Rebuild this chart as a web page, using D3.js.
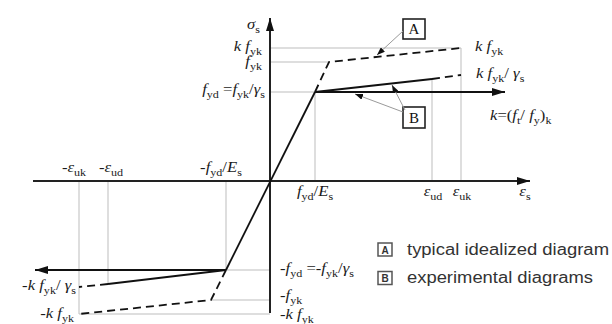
<!DOCTYPE html>
<html>
<head>
<meta charset="utf-8">
<script src="https://cdn.jsdelivr.net/npm/d3@7"></script>
<style>
body { margin: 0; background: #fff; }
svg { display: block; }
</style>
</head>
<body>
<script>
// strain positions (arbitrary units)
var strainNames = ["-ε_uk_", "-ε_ud_", "-f_yd_/E_s_", "f_yd_/E_s_", "ε_ud_", "ε_uk_"];
var strainVals = [-191, -162, -44, 45, 162, 191];
var fykEs = 59;
var axisEnd = [-237, 260];

// stress levels
var fyd = 89, fyk = 119, kfyk = 133, kfykGs = 106;
var bAtUd = 102;   // B line value at eps_ud
var arrowReach = 235;

// curves
var elastic = [[-44, -fyd], [45, fyd]];
var idealA = [[45, fyd], [fykEs, fyk], [191, kfyk]];
var idealAneg = [[-44, -fyd], [-fykEs, -fyk], [-191, -kfyk]];
var expB = [[45, fyd], [162, bAtUd]];
var expBdash = [[162, bAtUd], [191, kfykGs]];
var expBneg = [[-44, -fyd], [-162, -103]];
var expBnegDash = [[-162, -103], [-191, -kfykGs]];
var flatPos = [[45, fyd], [arrowReach, fyd]];
var flatNeg = [[-44, -fyd], [-arrowReach, -fyd]];

var legendKeys = ["A", "B"];
var legendText = ["typical idealized diagram", "experimental diagrams"];

var width = 612, height = 324;
var x = d3.scaleLinear().domain(axisEnd).range([33, 530]);
var y = d3.scaleLinear().domain([-132, 163]).range([313, 18]);

var svg = d3.select("body").append("svg")
    .attr("width", width)
    .attr("height", height);

var defs = svg.append("defs");
function marker(id, len, wid) {
    defs.append("marker")
        .attr("id", id)
        .attr("markerUnits", "userSpaceOnUse")
        .attr("viewBox", "0 0 " + len + " " + wid)
        .attr("refX", len).attr("refY", wid / 2)
        .attr("markerWidth", len).attr("markerHeight", wid)
        .attr("orient", "auto")
        .append("path")
        .attr("d", "M0,0L" + len + "," + (wid / 2) + "L0," + wid + "Z")
        .attr("fill", "#111");
}
marker("arr", 13, 8);
marker("arrSmall", 8, 6);

var line = d3.line().x(function(d) { return x(d[0]); }).y(function(d) { return y(d[1]); });

// gray guide lines
var grid = svg.append("g").attr("stroke", "#bdbdbd").attr("stroke-width", 1).attr("fill", "none");
var guides = [
    [[0, kfyk], [191, kfyk]], [[0, fyk], [fykEs, fyk]], [[0, fyd], [45, fyd]],
    [[45, 0], [45, fyd]], [[162, 0], [162, bAtUd]], [[191, 0], [191, kfyk]],
    [[0, -kfyk], [-191, -kfyk]], [[0, -fyk], [-fykEs, -fyk]], [[0, -fyd], [-44, -fyd]],
    [[-44, 0], [-44, -fyd]], [[-162, 0], [-162, -103]], [[-191, 0], [-191, -kfyk]]
];
grid.selectAll("path").data(guides).enter().append("path").attr("d", line);

// axes
svg.append("path")
    .attr("d", line([[axisEnd[0], 0], [axisEnd[1], 0]]))
    .attr("stroke", "#222").attr("stroke-width", 2)
    .attr("marker-end", "url(#arr)");
svg.append("path")
    .attr("d", line([[0, -132], [0, 163]]))
    .attr("stroke", "#222").attr("stroke-width", 2)
    .attr("marker-end", "url(#arr)");

// curves
var solid = [elastic, expB, expBneg];
var dashed = [idealA, idealAneg, expBdash, expBnegDash];
svg.selectAll(".solid").data(solid).enter().append("path")
    .attr("class", "solid")
    .attr("d", line).attr("fill", "none")
    .attr("stroke", "#111").attr("stroke-width", 1.8);
svg.selectAll(".dash").data(dashed).enter().append("path")
    .attr("class", "dash")
    .attr("d", line).attr("fill", "none")
    .attr("stroke", "#111").attr("stroke-width", 1.8)
    .attr("stroke-dasharray", "8,5");
[flatPos, flatNeg].forEach(function(d) {
    svg.append("path").attr("d", line(d))
        .attr("stroke", "#111").attr("stroke-width", 1.8)
        .attr("marker-end", "url(#arr)");
});

// math-ish label with italics and subscripts (slightly stretched like the source)
function mathText(px, py, s, anchor) {
    var runs = [], sub = false;
    for (var ch of s) {
        if (ch === "_") { sub = !sub; continue; }
        var it = !sub && "kfEεσγ".indexOf(ch) >= 0;
        var last = runs[runs.length - 1];
        if (last && last.sub === sub && last.it === it) last.t += ch;
        else runs.push({t: ch, sub: sub, it: it});
    }
    var t = svg.append("text")
        .attr("transform", "translate(" + px + "," + py + ") scale(1.15,1)")
        .attr("text-anchor", anchor || "start")
        .attr("font-family", "Liberation Serif, DejaVu Serif, serif")
        .attr("font-size", 14.5).attr("fill", "#1a1a1a");
    var shift = 0;
    runs.forEach(function(r) {
        var target = r.sub ? 3.5 : 0;
        t.append("tspan")
            .attr("dy", target - shift)
            .attr("font-size", r.sub ? 10.5 : 14.5)
            .attr("font-style", r.it ? "italic" : "normal")
            .text(r.t);
        shift = target;
    });
    return t;
}

// strain labels
var strainNudge = [-5, 3, -5, 0, 1, 1];
strainNames.forEach(function(n, i) {
    var v = strainVals[i];
    if (v < 0) mathText(x(v) + strainNudge[i], y(0) - 9, n, "middle");
    else mathText(x(v) + strainNudge[i], y(0) + 15, n, "middle");
});
mathText(x(255), y(0) + 15, "ε_s_", "middle");
mathText(x(0) - 10, y(152), "σ_s_", "end");

// stress labels, left of axis (positive)
mathText(x(0) - 8, y(kfyk) + 3, "k f_yk_", "end");
mathText(x(0) - 8, y(fyk) + 4, "f_yk_", "end");
mathText(x(0) - 5, y(fyd) + 2, "f_yd_ =f_yk_/γ_s_", "end");
// right side
mathText(x(191) + 14, y(kfyk) + 3, "k f_yk_", "start");
mathText(x(191) + 15, y(kfykGs) + 3, "k f_yk_/ γ_s_", "start");
mathText(x(220), y(fyd) + 28, "k=(f_t_/ f_y_)_k_", "start");
// negative side
mathText(x(0) + 10, y(-fyd) + 3, "-f_yd_ =-f_yk_/γ_s_", "start");
mathText(x(0) + 10, y(-fyk) + 0, "-f_yk_", "start");
mathText(x(0) + 10, y(-kfyk) + 5, "-k f_yk_", "start");
mathText(x(-191) - 3, y(-kfykGs) + 3, "-k f_yk_/ γ_s_", "end");
mathText(x(-191) - 5, y(-kfyk) + 4, "-k f_yk_", "end");

// A / B callout boxes
var boxes = [{k: "A", x: 403, y: 19, h: 20}, {k: "B", x: 403, y: 107, h: 21}];
boxes.forEach(function(b) {
    svg.append("rect").attr("x", b.x).attr("y", b.y).attr("width", 22).attr("height", b.h)
        .attr("fill", "#fff").attr("stroke", "#222").attr("stroke-width", 1.6);
    svg.append("text").attr("x", b.x + 11).attr("y", b.y + b.h / 2 + 5)
        .attr("text-anchor", "middle")
        .attr("font-family", "Liberation Serif, serif").attr("font-size", 15)
        .attr("fill", "#111").text(b.k);
});
var leaders = [
    [[403, 31], [377, 55]],
    [[405, 110], [392, 85]],
    [[403, 112], [355, 94]]
];
leaders.forEach(function(l) {
    svg.append("path").attr("d", "M" + l[0] + "L" + l[1])
        .attr("stroke", "#9a9a9a").attr("stroke-width", 1)
        .attr("marker-end", "url(#arrSmall)");
});

// legend
var legendLen = [202, 186];
var leg = svg.append("g").attr("transform", "translate(378,243)");
legendKeys.forEach(function(k, i) {
    var g = leg.append("g").attr("transform", "translate(0," + (i * 28.5) + ")");
    g.append("rect").attr("width", 14).attr("height", 13)
        .attr("fill", "#fff").attr("stroke", "#555").attr("stroke-width", 1.5);
    g.append("text").attr("x", 7).attr("y", 10.5).attr("text-anchor", "middle")
        .attr("font-family", "Liberation Sans, Arial, sans-serif")
        .attr("font-size", 10).attr("font-weight", "bold").attr("fill", "#333").text(k);
    g.append("text").attr("x", 29).attr("y", 11.5)
        .attr("font-family", "Liberation Sans, Arial, sans-serif")
        .attr("font-size", 16)
        .attr("textLength", legendLen[i]).attr("lengthAdjust", "spacingAndGlyphs")
        .attr("fill", "#333").text(legendText[i]);
});
</script>
</body>
</html>
